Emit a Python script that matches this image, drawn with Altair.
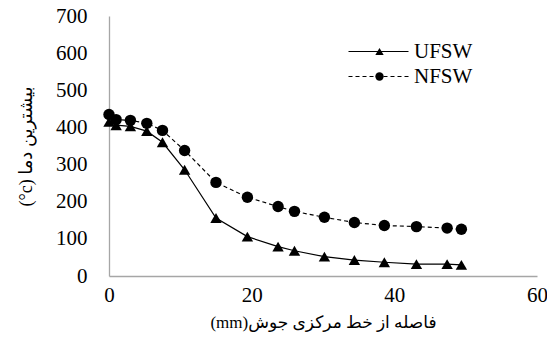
import altair as alt
import pandas as pd

# ---- data ----
distance_mm = [0, 1, 3, 5.3, 7.5, 10.6, 15, 19.4, 23.7, 26, 30.2, 34.4, 38.6, 43.1, 47.4, 49.4]
ufsw_temp = [415, 406, 403, 390, 360, 286, 156, 106, 79, 68, 52, 43, 37, 32, 32, 30]
nfsw_temp = [435, 421, 419, 411, 392, 338, 252, 212, 187, 174, 158, 144, 136, 133, 129, 126]
series_names = ["UFSW", "NFSW"]
marker_codes = ["tri", "dot"]
x_ticks = [0, 20, 40, 60]
y_ticks = [0, 100, 200, 300, 400, 500, 600, 700]

# right-to-left titles (wrapped in RLE ... PDF so they lay out as Persian text)
x_title = "\u202bفاصله از خط مرکزی جوش(mm)\u202c"
y_title = "\u202bبیشترین دما \u202a(°c)\u202c\u202c"

rows = []
for d, u, n in zip(distance_mm, ufsw_temp, nfsw_temp):
    rows.append({"x": d, "temp": u, "series": "UFSW", "marker": "tri"})
    rows.append({"x": d, "temp": n, "series": "NFSW", "marker": "dot"})
df = pd.DataFrame(rows)

FONT = "Liberation Serif, Times New Roman, serif"
TITLE_FONT = "Liberation Serif, DejaVu Sans, serif"

xenc = alt.X(
    "x:Q",
    scale=alt.Scale(domain=[0, 60], nice=False),
    axis=alt.Axis(
        values=x_ticks, title=x_title, titleFont=TITLE_FONT, titleFontSize=17,
        titleFontWeight="normal", titleColor="black", titleY=46, titleBaseline="middle",
        labelPadding=8, labelFont=FONT, labelFontSize=21, labelColor="black",
        labelOverlap=False, labelFlush=False, ticks=False, grid=False,
    ),
)
yenc = alt.Y(
    "temp:Q",
    scale=alt.Scale(domain=[0, 700], nice=False),
    axis=alt.Axis(
        values=y_ticks, title=y_title, titleFont=TITLE_FONT, titleFontSize=18,
        titleFontWeight="normal", titleColor="black", titleX=-83, titleBaseline="middle",
        labelPadding=22, labelFont=FONT, labelFontSize=21, labelColor="black",
        labelOverlap=False, labelFlush=False, ticks=False, grid=False,
    ),
)

base = alt.Chart(df).encode(x=xenc, y=yenc)

u_line = base.transform_filter(alt.datum.series == "UFSW").mark_line(
    color="black", strokeWidth=1.2)
n_line = base.transform_filter(alt.datum.series == "NFSW").mark_line(
    color="black", strokeWidth=1.2, strokeDash=[4, 3])
u_pts = base.transform_filter(alt.datum.series == "UFSW").mark_point(
    shape="triangle-up", filled=True, color="black", size=130, opacity=1)
n_pts = base.transform_filter(alt.datum.series == "NFSW").mark_point(
    shape="circle", filled=True, color="black", size=130, opacity=1)

LEG_X = 259
LEG_Y = 25

line_legend = alt.Legend(
    title=None, orient="none", legendX=LEG_X, legendY=LEG_Y,
    symbolType="M-6,0H6", symbolSize=100, symbolStrokeColor="black",
    symbolStrokeWidth=1.2, symbolOpacity=1,
    labelOffset=25, labelFontSize=21, labelFont=FONT, labelColor="black",
    rowPadding=3, padding=0,
)
shape_legend = alt.Legend(
    title=None, orient="none", legendX=LEG_X + 1, legendY=LEG_Y,
    symbolSize=70, symbolFillColor="black", symbolStrokeColor="black",
    symbolStrokeWidth=0, symbolOpacity=1,
    labelOffset=25, labelFontSize=21, labelFont=FONT, labelColor="black",
    labelExpr="''", labelOpacity=0, rowPadding=3, padding=0,
)

legend_lines = base.transform_filter("datum.temp < -1").mark_line(
    color="black", strokeWidth=1.2).encode(
    strokeDash=alt.StrokeDash(
        "series:N",
        scale=alt.Scale(domain=series_names, range=[[1, 0], [4, 3]]),
        legend=line_legend,
    ),
)
legend_marks = base.transform_filter("datum.temp < -1").mark_point(
    filled=True, color="black", opacity=1).encode(
    shape=alt.Shape(
        "marker:N",
        scale=alt.Scale(domain=marker_codes, range=["triangle-up", "circle"]),
        legend=shape_legend,
    ),
)

chart = alt.layer(u_line, n_line, u_pts, n_pts, legend_lines, legend_marks).properties(
    width=428, height=260,
    autosize=alt.AutoSizeParams(type="none"),
    padding={"left": 109, "top": 16, "right": 10, "bottom": 78},
).configure_view(stroke=None).configure_axis(
    domainColor="#a6a6a6", domainWidth=1.3, tickSize=0,
    labelFont=FONT, labelFontSize=21, labelColor="black",
)

chart.save("out.html", embed_options={"renderer": "svg", "actions": False})
